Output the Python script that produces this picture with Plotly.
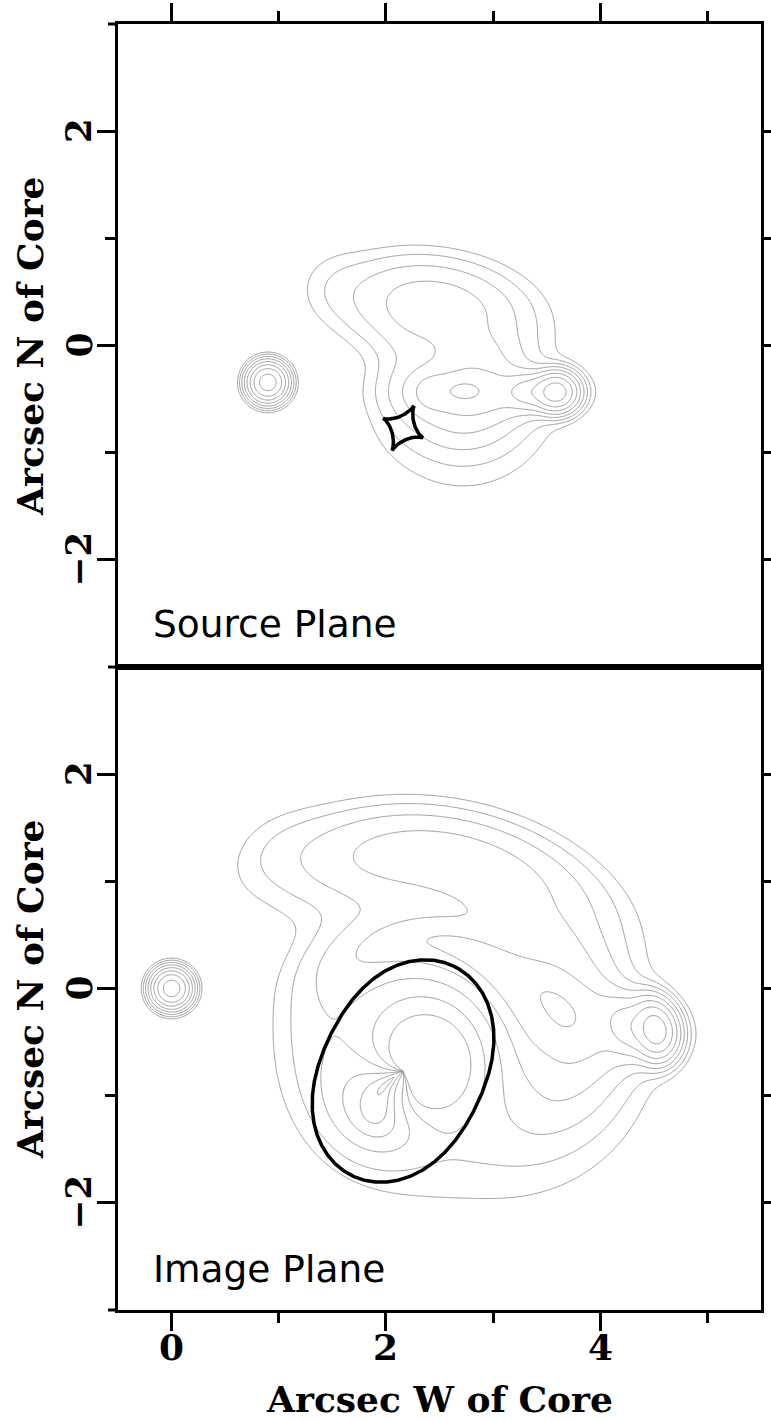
import numpy as np
import plotly.graph_objects as go

# ---------------- lens model (isothermal elliptical potential) ----------------
lens_center = [2.16, -0.77]     # arcsec
lens_b = 0.91                   # Einstein-radius scale
lens_eps = 0.12                 # potential ellipticity
lens_pa_deg = 64.0              # orientation of the critical-curve major axis

# ---------------- source-plane components (elliptical gaussians) ----------------
comp_name = ["head", "head_tail", "knot", "jet", "jet_base", "halo_core", "halo_wide",
             "halo_west", "lobe", "lobe_west", "bridge"]
comp_x = [3.59, 3.36, 2.72, 2.95, 2.40, 2.72, 2.72, 2.15, 2.45, 1.52, 2.85]
comp_y = [-0.435, -0.435, -0.42, -0.43, -0.43, -0.52, -0.50, -0.30, 0.36, 0.55, -0.10]
comp_sx = [0.10, 0.13, 0.12, 0.40, 0.12, 0.30, 0.52, 0.15, 0.47, 0.22, 0.25]
comp_sy = [0.09, 0.09, 0.07, 0.14, 0.12, 0.24, 0.52, 0.30, 0.25, 0.22, 0.15]
comp_pa = [0, 0, 0, 0, 0, 0, 0, 0, -8, 0, 0]
comp_amp = [186, 40, 12, 14, 9, 11, 3.2, 1.5, 12, 1.0, 5]

# compact core (seen at the origin of the image plane)
core_image_pos = [0.0, 0.0]
core_sigma = 0.0875
core_amp = 189.0

# contour levels are powers of two: 2**0 ... 2**7
level_lo, level_hi = 0, 7

# axes
x_range = [-0.5, 5.5]
y_range = [-3, 3]
x_major = [0, 2, 4]
x_major_text = ["0", "2", "4"]
x_minor = [1, 3, 5]
y_major = [-2, 0, 2]
y_major_text = ["\u22122", "0", "2"]
y_minor = [-1, 1]


def deflection(x, y):
    lx, ly = lens_center
    pa = np.radians(lens_pa_deg)
    c, s = np.cos(pa), np.sin(pa)
    dx, dy = x - lx, y - ly
    xp = c * dx + s * dy
    yp = -s * dx + c * dy
    e = lens_eps
    rho = np.sqrt((1 - e) * xp ** 2 + (1 + e) * yp ** 2) + 1e-9
    axp = lens_b * (1 - e) * xp / rho
    ayp = lens_b * (1 + e) * yp / rho
    return c * axp - s * ayp, s * axp + c * ayp


def to_source(x, y):
    ax, ay = deflection(x, y)
    return x - ax, y - ay


def source_brightness(x, y):
    total = np.zeros_like(x, dtype=float)
    for x0, y0, sx, sy, pa, amp in zip(comp_x, comp_y, comp_sx, comp_sy, comp_pa, comp_amp):
        t = np.radians(pa)
        dx, dy = x - x0, y - y0
        xr = np.cos(t) * dx + np.sin(t) * dy
        yr = -np.sin(t) * dx + np.cos(t) * dy
        total += amp * np.exp(-0.5 * ((xr / sx) ** 2 + (yr / sy) ** 2))
    return total


def core_brightness(x, y, x0, y0):
    return core_amp * np.exp(-0.5 * ((x - x0) ** 2 + (y - y0) ** 2) / core_sigma ** 2)


def log_map(v):
    return np.round(np.log2(np.maximum(v, 0.25)), 3)


# core position in the source plane
core_src = to_source(np.array(core_image_pos[0]), np.array(core_image_pos[1]))

# source plane map
sx_grid = np.arange(0.30, 4.40, 0.008)
sy_grid = np.arange(-1.75, 1.35, 0.008)
SX, SY = np.meshgrid(sx_grid, sy_grid)
src_map = source_brightness(SX, SY) + core_brightness(SX, SY, float(core_src[0]), float(core_src[1]))

# image plane map (surface brightness conserved through the lens)
ix_grid = np.arange(-0.45, 5.35, 0.009)
iy_grid = np.arange(-2.45, 2.25, 0.009)
IX, IY = np.meshgrid(ix_grid, iy_grid)
BX, BY = to_source(IX, IY)
img_map = source_brightness(BX, BY) + core_brightness(IX, IY, *core_image_pos)

# tangential critical curve r = F + F'' and its caustic
u = np.linspace(0, 2 * np.pi, 1441)
e = lens_eps
g = 1 - e * np.cos(2 * u)
g1 = 2 * e * np.sin(2 * u)
g2 = 4 * e * np.cos(2 * u)
F = lens_b * np.sqrt(g)
F2 = lens_b * (g2 / (2 * np.sqrt(g)) - g1 ** 2 / (4 * g ** 1.5))
rc = F + F2
phi = u + np.radians(lens_pa_deg)
crit_x = lens_center[0] + rc * np.cos(phi)
crit_y = lens_center[1] + rc * np.sin(phi)
caus_x, caus_y = to_source(crit_x, crit_y)

contour_style = dict(
    contours=dict(start=level_lo, end=level_hi, size=1, coloring="none"),
    line=dict(color="#9c9c9c", width=1),
    showscale=False, hoverinfo="skip",
)

fig = go.Figure()
fig.add_trace(go.Contour(x=sx_grid, y=sy_grid, z=log_map(src_map),
                         xaxis="x2", yaxis="y2", **contour_style))
fig.add_trace(go.Scatter(x=caus_x, y=caus_y, mode="lines",
                         line=dict(color="black", width=3.5),
                         xaxis="x2", yaxis="y2", hoverinfo="skip"))
fig.add_trace(go.Contour(x=ix_grid, y=iy_grid, z=log_map(img_map),
                         xaxis="x", yaxis="y", **contour_style))
fig.add_trace(go.Scatter(x=crit_x, y=crit_y, mode="lines",
                         line=dict(color="black", width=3.5),
                         xaxis="x", yaxis="y", hoverinfo="skip"))

axis_common = dict(
    showgrid=False, zeroline=False, showline=True, linewidth=3, linecolor="black",
    ticks="outside", ticklen=18, tickwidth=3, tickcolor="black",
    showticklabels=False, automargin=False, fixedrange=True,
)
x_common = dict(axis_common, range=x_range, tickmode="array", tickvals=x_major,
                minor=dict(tickmode="array", tickvals=x_minor, ticklen=10, tickwidth=3,
                           tickcolor="black", ticks="outside"))
y_common = dict(axis_common, range=y_range, tickmode="array", tickvals=y_major,
                mirror="ticks",
                minor=dict(tickmode="array", tickvals=y_minor, ticklen=10, tickwidth=3,
                           tickcolor="black", ticks="outside"))

fig.update_layout(
    width=771, height=1422,
    margin=dict(l=118, r=10, t=24, b=112, autoexpand=False),
    paper_bgcolor="white", plot_bgcolor="white",
    showlegend=False,
    xaxis=dict(x_common, anchor="y", domain=[0, 1], mirror=True),
    xaxis2=dict(x_common, anchor="y2", domain=[0, 1], side="top", mirror=True),
    yaxis=dict(y_common, anchor="x", domain=[0, 0.5]),
    yaxis2=dict(y_common, anchor="x2", domain=[0.5, 1]),
)

serif_bold = dict(family="DejaVu Serif", size=36, color="black", weight="bold")
sans = dict(family="DejaVu Sans", size=37.5, color="black")

# tick labels
for v, t in zip(x_major, x_major_text):
    fig.add_annotation(text=t, xref="x", yref="paper", x=v, y=-0.0288,
                       xanchor="center", yanchor="middle", showarrow=False, font=serif_bold)
for ya in ("y", "y2"):
    for v, t in zip(y_major, y_major_text):
        fig.add_annotation(text=t, xref="paper", yref=ya, x=-0.0622, y=v,
                           xanchor="center", yanchor="middle", textangle=-90,
                           showarrow=False, font=serif_bold)

# axis titles
fig.add_annotation(text="Arcsec W of Core", xref="paper", yref="paper", x=0.5, y=-0.069,
                   xanchor="center", yanchor="middle", showarrow=False, font=serif_bold)
for yc in (0.7496, 0.2496):
    fig.add_annotation(text="Arcsec N of Core", xref="paper", yref="paper", x=-0.137, y=yc,
                       xanchor="center", yanchor="middle", textangle=-90, showarrow=False,
                       font=serif_bold)

# panel labels
fig.add_annotation(text="Source Plane", xref="x2", yref="y2", x=-0.19, y=-2.6,
                   xanchor="left", yanchor="middle", showarrow=False, font=sans)
fig.add_annotation(text="Image Plane", xref="x", yref="y", x=-0.19, y=-2.62,
                   xanchor="left", yanchor="middle", showarrow=False, font=sans)

# short overhang of the horizontal frame lines on the left
for yp in (0.0, 0.5, 1.0):
    fig.add_shape(type="line", xref="paper", yref="paper", x0=-10 / 643, x1=0, y0=yp, y1=yp,
                  line=dict(color="black", width=3))

fig.write_html("out.html")
